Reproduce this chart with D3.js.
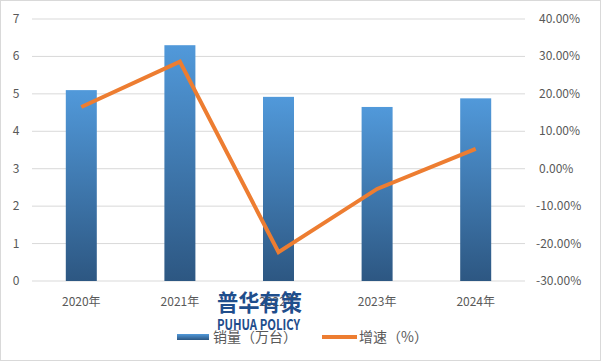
<!DOCTYPE html>
<meta charset="utf-8">
<script src="https://d3js.org/d3.v7.min.js"></script>
<style>
  body { margin: 0; background: #fff; }
  text { font-family: "Microsoft YaHei", "Noto Sans CJK SC", "DejaVu Sans", sans-serif; }
</style>
<body>
<div id="chart"></div>
<script>
var years = ["2020年", "2021年", "2022年", "2023年", "2024年"]
var sales = [5.10, 6.30, 4.92, 4.65, 4.88]
var growth = [16.5, 28.6, -22.3, -5.4, 5.3]
var leftTicks = [0, 1, 2, 3, 4, 5, 6, 7]
var rightTicks = [-30, -20, -10, 0, 10, 20, 30, 40]

var W = 601, H = 361
var m = { left: 32, right: 76, top: 19, bottom: 80 }

var svg = d3.select("#chart").append("svg")
  .attr("width", W).attr("height", H)

svg.append("rect")
  .attr("x", 0.5).attr("y", 0.5)
  .attr("width", W - 1).attr("height", H - 1)
  .attr("fill", "#fff").attr("stroke", "#d9d9d9")

var x = d3.scaleBand().domain(years).range([m.left, W - m.right])
var yL = d3.scaleLinear().domain([0, 7]).range([H - m.bottom, m.top])
var yR = d3.scaleLinear().domain([-30, 40]).range([H - m.bottom, m.top])

var defs = svg.append("defs")
var grad = defs.append("linearGradient")
  .attr("id", "barGrad").attr("x1", 0).attr("y1", 0).attr("x2", 0).attr("y2", 1)
grad.append("stop").attr("offset", "0%").attr("stop-color", "#5199da")
grad.append("stop").attr("offset", "100%").attr("stop-color", "#2d5782")

// gridlines
svg.append("g").selectAll("line")
  .data(leftTicks)
  .enter().append("line")
    .attr("x1", m.left).attr("x2", W - m.right)
    .attr("y1", function (d) { return yL(d) }).attr("y2", function (d) { return yL(d) })
    .attr("stroke", "#d9d9d9").attr("stroke-width", 1)

// left axis labels
svg.append("g").selectAll("text")
  .data(leftTicks)
  .enter().append("text")
    .attr("x", 16).attr("y", function (d) { return yL(d) + 4 })
    .attr("text-anchor", "middle")
    .attr("font-size", 12).attr("fill", "#595959")
    .text(function (d) { return d })

// right axis labels
svg.append("g").selectAll("text")
  .data(rightTicks)
  .enter().append("text")
    .attr("x", function (d) { return d < 0 ? 536 : 539 })
    .attr("y", function (d) { return yR(d) + 4 })
    .attr("font-size", 12).attr("fill", "#595959")
    .text(function (d) { return d.toFixed(2) + "%" })

// bars
var bw = 31
svg.append("g").selectAll("rect")
  .data(sales)
  .enter().append("rect")
    .attr("x", function (d, i) { return x(years[i]) + x.bandwidth() / 2 - bw / 2 })
    .attr("y", function (d) { return yL(d) })
    .attr("width", bw)
    .attr("height", function (d) { return yL(0) - yL(d) })
    .attr("fill", "url(#barGrad)")

// x labels
svg.append("g").selectAll("text")
  .data(years)
  .enter().append("text")
    .attr("x", function (d) { return x(d) + x.bandwidth() / 2 })
    .attr("y", 306)
    .attr("text-anchor", "middle")
    .attr("font-size", 12).attr("fill", "#595959")
    .text(function (d) { return d })

// growth line
var line = d3.line()
  .x(function (d, i) { return x(years[i]) + x.bandwidth() / 2 })
  .y(function (d) { return yR(d) })
svg.append("path")
  .datum(growth)
  .attr("d", line)
  .attr("fill", "none")
  .attr("stroke", "#ed7d31")
  .attr("stroke-width", 4)
  .attr("stroke-linejoin", "miter")

// legend
var leg = svg.append("g")
leg.append("rect")
  .attr("x", 177).attr("y", 334).attr("width", 32).attr("height", 6)
  .attr("fill", "url(#barGrad)")
leg.append("text")
  .attr("x", 213).attr("y", 342)
  .attr("font-size", 14).attr("fill", "#595959")
  .text("销量（万台）")
leg.append("line")
  .attr("x1", 322).attr("x2", 357).attr("y1", 337).attr("y2", 337)
  .attr("stroke", "#ed7d31").attr("stroke-width", 4)
leg.append("text")
  .attr("x", 359).attr("y", 342)
  .attr("font-size", 14).attr("fill", "#595959")
  .text("增速（%）")

// watermark
svg.append("text")
  .attr("x", 217).attr("y", 311)
  .attr("textLength", 85).attr("lengthAdjust", "spacingAndGlyphs")
  .attr("font-size", 23).attr("font-weight", "bold")
  .attr("fill", "#1f4e8c")
  .text("普华有策")
svg.append("text")
  .attr("x", 217).attr("y", 330)
  .attr("textLength", 83).attr("lengthAdjust", "spacingAndGlyphs")
  .attr("font-size", 15).attr("font-weight", "bold")
  .attr("fill", "#1f4e8c")
  .text("PUHUA POLICY")
</script>
</body>
